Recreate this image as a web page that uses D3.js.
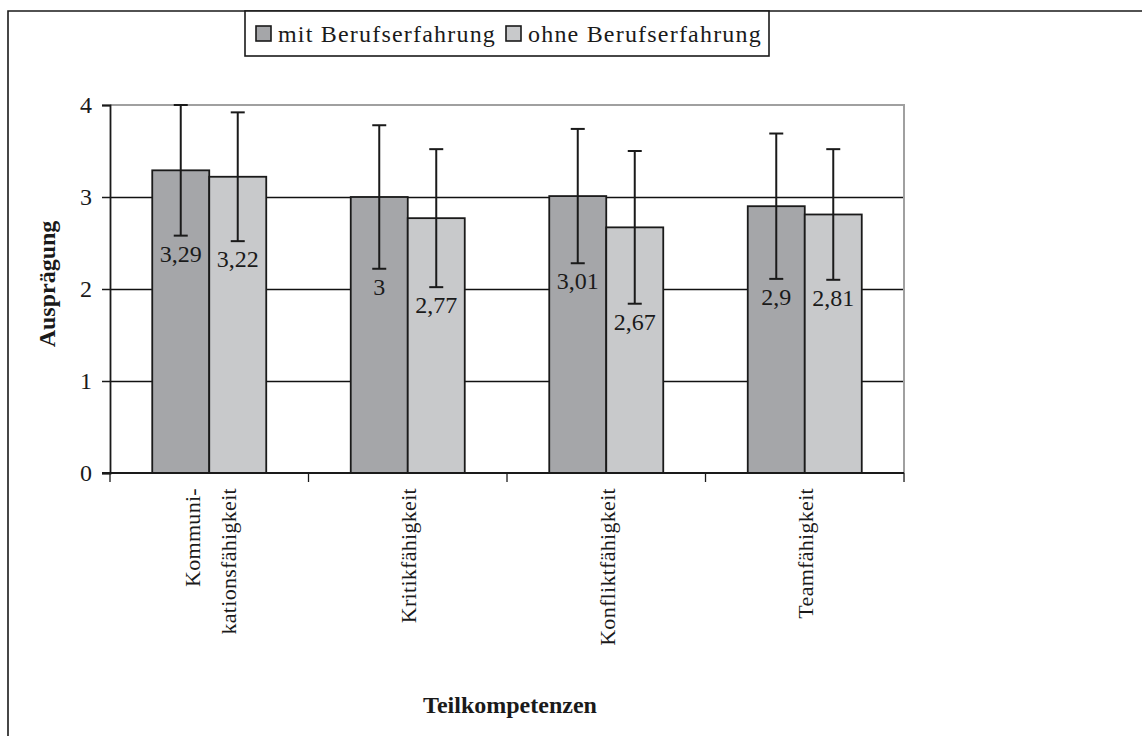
<!DOCTYPE html>
<html>
<head>
<meta charset="utf-8">
<script src="https://cdn.jsdelivr.net/npm/d3@7"></script>
<style>
  body { margin: 0; background: #fff; }
</style>
</head>
<body>
<svg id="chart"></svg>
<script>
var width = 1142;
var height = 736;
var serif = "'Liberation Serif', 'Times New Roman', serif";

// data
var categories = ["Kommunikationsfähigkeit", "Kritikfähigkeit", "Konfliktfähigkeit", "Teamfähigkeit"];
var categoryLines = [["Kommuni-", "kationsfähigkeit"], ["Kritikfähigkeit"], ["Konfliktfähigkeit"], ["Teamfähigkeit"]];
var seriesNames = ["mit Berufserfahrung", "ohne Berufserfahrung"];
var mitValues = [3.29, 3, 3.01, 2.9];
var ohneValues = [3.22, 2.77, 2.67, 2.81];
var mitErrors = [0.71, 0.78, 0.73, 0.79];
var ohneErrors = [0.70, 0.75, 0.83, 0.71];
var yTicks = [0, 1, 2, 3, 4];

var colors = { "mit Berufserfahrung": "#a5a6a9", "ohne Berufserfahrung": "#c8c9cb" };

var plot = { left: 110, right: 904, top: 105, bottom: 473 };

var rows = [];
categories.forEach(function (c, i) {
    rows.push({ cat: c, series: seriesNames[0], value: mitValues[i], err: mitErrors[i] });
    rows.push({ cat: c, series: seriesNames[1], value: ohneValues[i], err: ohneErrors[i] });
});

var svg = d3.select("#chart")
    .attr("width", width)
    .attr("height", height)
    .attr("xmlns", "http://www.w3.org/2000/svg")
    .style("font-family", serif);

var x0 = d3.scaleBand()
    .domain(categories)
    .range([plot.left, plot.right])
    .paddingInner(0.4257)
    .paddingOuter(0.2128);

var x1 = d3.scaleBand()
    .domain(seriesNames)
    .range([0, x0.bandwidth()]);

var y = d3.scaleLinear()
    .domain([0, 4])
    .range([plot.bottom, plot.top]);

function barMid(d) {
    return x0(d.cat) + x1(d.series) + x1.bandwidth() / 2;
}

// outer frame (only left and top visible)
svg.append("path")
    .attr("d", "M8," + height + " V11 H" + width)
    .attr("fill", "none")
    .attr("stroke", "#1a1a1a")
    .attr("stroke-width", 1.6);

// gridlines
svg.append("g")
    .selectAll("line")
    .data(yTicks.filter(function (t) { return t > 0 && t < 4; }))
    .enter()
    .append("line")
    .attr("x1", plot.left)
    .attr("x2", plot.right)
    .attr("y1", function (d) { return Math.round(y(d)) + 0.5; })
    .attr("y2", function (d) { return Math.round(y(d)) + 0.5; })
    .attr("stroke", "#111")
    .attr("stroke-width", 1.3);

// plot area border top/right (grey)
svg.append("path")
    .attr("d", "M" + plot.left + "," + y(4) + " H" + plot.right + " V" + plot.bottom)
    .attr("fill", "none")
    .attr("stroke", "#a0a0a0")
    .attr("stroke-width", 2);

// bars
svg.append("g")
    .selectAll("rect")
    .data(rows)
    .enter()
    .append("rect")
    .attr("x", function (d) { return x0(d.cat) + x1(d.series); })
    .attr("y", function (d) { return y(d.value); })
    .attr("width", x1.bandwidth())
    .attr("height", function (d) { return y(0) - y(d.value); })
    .attr("fill", function (d) { return colors[d.series]; })
    .attr("stroke", "#1a1a1a")
    .attr("stroke-width", 1.8);

// error bars
var err = svg.append("g")
    .attr("stroke", "#1a1a1a")
    .attr("stroke-width", 2)
    .selectAll("g")
    .data(rows)
    .enter()
    .append("g");
err.append("line")
    .attr("x1", barMid)
    .attr("x2", barMid)
    .attr("y1", function (d) { return y(d.value + d.err); })
    .attr("y2", function (d) { return y(d.value - d.err); });
[1, -1].forEach(function (s) {
    err.append("line")
        .attr("x1", function (d) { return barMid(d) - 7; })
        .attr("x2", function (d) { return barMid(d) + 7; })
        .attr("y1", function (d) { return y(d.value + s * d.err); })
        .attr("y2", function (d) { return y(d.value + s * d.err); });
});

// value labels
svg.append("g")
    .selectAll("text")
    .data(rows)
    .enter()
    .append("text")
    .attr("x", barMid)
    .attr("y", function (d) { return y(d.value - d.err) + 26; })
    .attr("text-anchor", "middle")
    .style("font-family", serif)
    .style("font-size", "24px")
    .attr("fill", "#1a1a1a")
    .text(function (d) { return String(d.value).replace(".", ","); });

// y axis
var yAxis = svg.append("g")
    .attr("transform", "translate(" + plot.left + ",0)")
    .call(d3.axisLeft(y).tickValues(yTicks).tickSize(8).tickPadding(10).tickFormat(d3.format("d")));
yAxis.select(".domain").attr("stroke", "#1a1a1a").attr("stroke-width", 1.8);
yAxis.selectAll(".tick line").attr("stroke", "#1a1a1a").attr("stroke-width", 1.5);
yAxis.selectAll(".tick text")
    .style("font-size", "24px")
    .style("font-family", serif)
    .attr("fill", "#1a1a1a");

// x axis: baseline with category boundary ticks
svg.append("line")
    .attr("x1", plot.left - 8)
    .attr("x2", plot.right)
    .attr("y1", y(0))
    .attr("y2", y(0))
    .attr("stroke", "#1a1a1a")
    .attr("stroke-width", 1.8);
svg.append("g")
    .selectAll("line")
    .data(d3.range(categories.length + 1))
    .enter()
    .append("line")
    .attr("x1", function (i) { return plot.left + i * x0.step(); })
    .attr("x2", function (i) { return plot.left + i * x0.step(); })
    .attr("y1", y(0))
    .attr("y2", y(0) + 9)
    .attr("stroke", "#1a1a1a")
    .attr("stroke-width", 1.3);

// category labels, rotated
categories.forEach(function (c, i) {
    var cx = x0(c) + x0.bandwidth() / 2;
    var lines = categoryLines[i];
    lines.forEach(function (line, j) {
        var off = (j - (lines.length - 1) / 2) * 36;
        svg.append("text")
            .attr("transform", "translate(" + (cx + off + 1) + "," + 488 + ") rotate(-90)")
            .attr("text-anchor", "end")
            .attr("dy", "0.35em")
            .attr("fill", "#1a1a1a")
            .style("font-family", serif)
            .style("font-size", "22px")
            .style("letter-spacing", "0.3px")
            .text(line);
    });
});

// axis titles
svg.append("text")
    .attr("x", 510)
    .attr("y", 713)
    .attr("text-anchor", "middle")
    .attr("fill", "#1a1a1a")
    .style("font-family", serif)
    .style("font-size", "24px")
    .style("font-weight", "bold")
    .text("Teilkompetenzen");
svg.append("text")
    .attr("transform", "translate(47," + 284 + ") rotate(-90)")
    .attr("text-anchor", "middle")
    .attr("dy", "0.35em")
    .attr("fill", "#1a1a1a")
    .style("font-family", serif)
    .style("font-size", "24px")
    .style("font-weight", "bold")
    .text("Ausprägung");

// legend
var legend = svg.append("g");
legend.append("rect")
    .attr("x", 245)
    .attr("y", 11)
    .attr("width", 524)
    .attr("height", 45)
    .attr("fill", "#fff")
    .attr("stroke", "#1a1a1a")
    .attr("stroke-width", 1.6);
var legendX = [256, 506];
seriesNames.forEach(function (s, i) {
    legend.append("rect")
        .attr("x", legendX[i])
        .attr("y", 26)
        .attr("width", 15)
        .attr("height", 15)
        .attr("fill", colors[s])
        .attr("stroke", "#1a1a1a")
        .attr("stroke-width", 1.6);
    legend.append("text")
        .attr("x", legendX[i] + 22)
        .attr("y", 42)
        .attr("fill", "#1a1a1a")
        .style("font-family", serif)
        .style("font-size", "24px")
        .style("letter-spacing", "1.2px")
        .text(s);
});
</script>
</body>
</html>
